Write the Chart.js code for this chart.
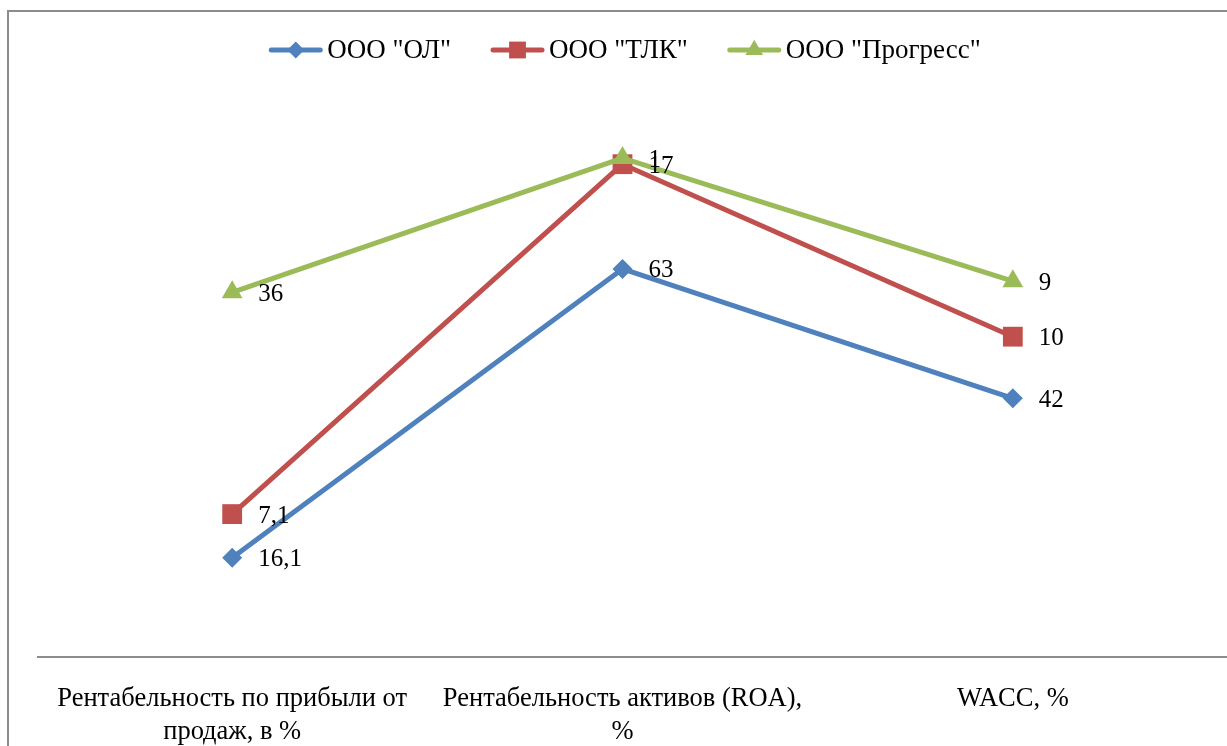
<!DOCTYPE html>
<html>
<head>
<meta charset="utf-8">
<script src="https://cdn.jsdelivr.net/npm/chart.js@4/dist/chart.umd.min.js"></script>
<style>
  html, body { margin:0; padding:0; background:#fff; overflow:hidden; }
  #frame { position:absolute; left:7px; top:10px; width:1300px; height:800px; border:2px solid #8c8c8c; }
  #wrap { position:absolute; left:0; top:0; width:1227px; height:746px; }
</style>
</head>
<body>
<div id="frame"></div>
<div id="wrap"><canvas id="chartRent" width="1227" height="746"></canvas></div>
<script>
// categories and series (values as shown in data labels, stacked line chart)
const categories = [
  ['Рентабельность по прибыли от', 'продаж, в %'],
  ['Рентабельность активов (ROA),', '%'],
  'WACC, %'
];
const seriesNames = ['ООО "ОЛ"', 'ООО "ТЛК"', 'ООО "Прогресс"'];
const olValues = [16.1, 63, 42];
const tlkValues = [7.1, 17, 10];
const progressValues = [36, 1, 9];

const FONT = '"Liberation Serif", "Times New Roman", serif';
const colors = ['#4F81BD', '#C0504D', '#9BBB59'];
const styles = [
  { pointStyle:'rectRot', pointRadius:10 },
  { pointStyle:'rect', pointRadius:14 },
  { pointStyle:'triangle', pointRadius:12 }
];

function fmt(v){ return String(v).replace('.', ','); }

function marker(ctx, style, r, x, y, color){
  ctx.fillStyle = color;
  ctx.beginPath();
  if (style === 'rectRot'){
    ctx.moveTo(x, y - r); ctx.lineTo(x + r, y); ctx.lineTo(x, y + r); ctx.lineTo(x - r, y);
  } else if (style === 'rect'){
    const s = r * Math.SQRT1_2;
    ctx.rect(x - s, y - s, 2*s, 2*s);
  } else {
    const w = r * Math.sin(Math.PI/3);
    ctx.moveTo(x, y - r); ctx.lineTo(x + w, y + r/2); ctx.lineTo(x - w, y + r/2);
  }
  ctx.closePath();
  ctx.fill();
}

// draw datasets bottom-to-top so the last series sits on top
const orderPlugin = {
  id:'orderPlugin',
  beforeDatasetsDraw(chart){
    chart.getSortedVisibleDatasetMetas().forEach(m => m.controller.draw());
    return false;
  }
};

const decorPlugin = {
  id:'decorPlugin',
  afterDraw(chart){
    const ctx = chart.ctx, a = chart.chartArea;
    ctx.save();
    // category axis line, runs to the right edge
    ctx.strokeStyle = '#8c8c8c'; ctx.lineWidth = 2;
    ctx.beginPath(); ctx.moveTo(a.left, a.bottom); ctx.lineTo(chart.width, a.bottom); ctx.stroke();

    // data labels (raw values, right of each point)
    ctx.font = '25px ' + FONT;
    ctx.fillStyle = '#000'; ctx.textAlign = 'left'; ctx.textBaseline = 'middle';
    chart.data.datasets.forEach((ds, i) => {
      chart.getDatasetMeta(i).data.forEach((pt, j) => {
        ctx.fillText(fmt(ds.data[j]), pt.x + 26, pt.y + 2);
      });
    });

    // legend: line + marker + text
    ctx.font = '27px ' + FONT;
    const lineLen = 53, gapText = 5, gapItem = 40, ly = 50;
    const items = chart.data.datasets.map((ds, i) => ({ ds, st: styles[i], w: ctx.measureText(ds.label).width }));
    const total = items.reduce((s, it) => s + lineLen + gapText + it.w, 0) + gapItem * (items.length - 1);
    let x = 625 - total / 2;
    items.forEach(it => {
      ctx.strokeStyle = it.ds.borderColor; ctx.lineWidth = 5; ctx.lineCap = 'round';
      ctx.beginPath(); ctx.moveTo(x + 2, ly); ctx.lineTo(x + lineLen - 2, ly); ctx.stroke();
      marker(ctx, it.st.pointStyle, it.st.pointRadius * 0.85, x + lineLen / 2, ly, it.ds.borderColor);
      ctx.fillStyle = '#000';
      ctx.fillText(it.ds.label, x + lineLen + gapText, ly + 1);
      x += lineLen + gapText + it.w + gapItem;
    });
    ctx.restore();
  }
};

const seriesValues = [olValues, tlkValues, progressValues];

new Chart(document.getElementById('chartRent'), {
  type:'line',
  data:{
    labels: categories,
    datasets: seriesValues.map((vals, i) => ({
      label: seriesNames[i],
      data: vals,
      borderColor: colors[i],
      backgroundColor: colors[i],
      pointBackgroundColor: colors[i],
      pointBorderColor: colors[i],
      pointBorderWidth: 0,
      pointStyle: styles[i].pointStyle,
      pointRadius: styles[i].pointRadius,
      borderWidth: 5,
      borderJoinStyle: 'round',
      borderCapStyle: 'round',
      fill: false,
      tension: 0
    }))
  },
  options:{
    responsive:false,
    animation:false,
    devicePixelRatio:1,
    layout:{ padding:{ top:41, left:37, right:19, bottom:0 } },
    plugins:{ legend:{ display:false }, tooltip:{ enabled:false } },
    scales:{
      x:{
        offset:true,
        grid:{ display:false },
        border:{ display:false },
        ticks:{ color:'#000', padding:18, maxRotation:0, autoSkip:false, font:{ family:FONT, size:26.5, lineHeight:'33px' } },
        afterFit(scale){ scale.height = 89; }
      },
      y:{ display:false, stacked:true, min:0, max:100 }
    }
  },
  plugins:[orderPlugin, decorPlugin]
});
</script>
</body>
</html>
